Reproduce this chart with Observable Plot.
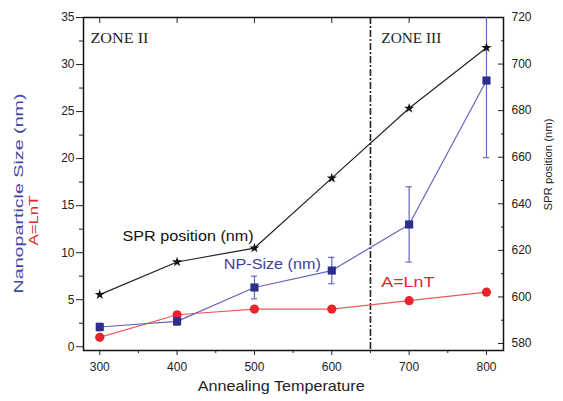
<!DOCTYPE html>
<html><head><meta charset="utf-8">
<script src="https://cdn.jsdelivr.net/npm/d3@7"></script>
<script src="https://cdn.jsdelivr.net/npm/@observablehq/plot@0.6"></script>
<style>body{margin:0;background:#fff}</style>
</head><body><div id="chart"></div>
<script>
const temperatures = [300, 400, 500, 600, 700, 800];
const sprPosition = [601, 615, 621, 651, 681, 707];
const npSize = [2.1, 2.7, 6.3, 8.1, 13.0, 28.3];
const npSizeError = [0.4, 0.4, 1.2, 1.4, 4.0, 8.2];
const lnT = [1.0, 3.4, 4.0, 4.0, 4.9, 5.8];
const xTicks = [300, 400, 500, 600, 700, 800];
const xMinorTicks = [350, 450, 550, 650, 750];
const leftTicks = [0, 5, 10, 15, 20, 25, 30, 35];
const leftMinorTicks = [2.5, 7.5, 12.5, 17.5, 22.5, 27.5, 32.5];
const rightTicks = [580, 600, 620, 640, 660, 680, 700, 720];
const rightMinorTicks = [590, 610, 630, 650, 670, 690, 710];
const zoneBoundary = [650];
const xLabel = "Annealing Temperature";
const leftLabel = "Nanoparticle Size (nm)";
const leftLabel2 = "A=LnT";
const rightLabel = "SPR position (nm)";

const sprToLeft = d3.scaleLinear().domain([577, 720]).range([-0.4, 35]);
const rows = temperatures.map((t, i) => ({
  t, spr: sprToLeft(sprPosition[i]), size: npSize[i],
  lo: npSize[i] - npSizeError[i], hi: npSize[i] + npSizeError[i], ln: lnT[i]
}));

const BLUE = "#2d2d8c", BLUE_L = "#6565c0", RED = "#e5252a", RED_L = "#ee5a5a";

const chart = Plot.plot({
  width: 563, height: 401,
  marginLeft: 83, marginRight: 60, marginTop: 17, marginBottom: 51,
  style: {fontFamily: "Liberation Sans, Arial, sans-serif", fontSize: "12px", color: "#222", background: "#fff"},
  x: {domain: [279, 822]},
  y: {domain: [-0.4, 35]},
  marks: [
    Plot.ruleX(zoneBoundary, {x: d => d, stroke: "#222", strokeWidth: 1.6, strokeDasharray: "7,2,2,2"}),
    // axes
    Plot.axisX(xTicks, {anchor: "bottom", tickSize: 5, tickPadding: 7, label: null, tickFormat: d => d}),
    Plot.axisX(xMinorTicks, {anchor: "bottom", tickSize: 3, label: null, tickFormat: () => ""}),
    Plot.axisX(xTicks, {anchor: "top", tickSize: -5, label: null, tickFormat: () => ""}),
    Plot.axisY(leftTicks, {anchor: "left", tickSize: 7, tickPadding: 2, label: null, tickFormat: d => d}),
    Plot.axisY(leftMinorTicks, {anchor: "left", tickSize: 4, label: null, tickFormat: () => ""}),
    Plot.axisY(rightTicks.map(v => sprToLeft(v)), {anchor: "right", tickSize: -6, tickPadding: 14, label: null, tickFormat: d => Math.round(sprToLeft.invert(d))}),
    Plot.axisY(rightMinorTicks.map(v => sprToLeft(v)), {anchor: "right", tickSize: -3, label: null, tickFormat: () => ""}),
    Plot.frame({stroke: "#111", strokeWidth: 1.5}),
    // A=LnT
    Plot.line(rows, {x: "t", y: "ln", stroke: RED_L, strokeWidth: 1.2}),
    Plot.dot(rows, {x: "t", y: "ln", r: 4.6, fill: RED, symbol: "circle"}),
    // NP size
    Plot.line(rows, {x: "t", y: "size", stroke: BLUE_L, strokeWidth: 1.2}),
    Plot.ruleX(rows, {x: "t", y1: "lo", y2: "hi", stroke: BLUE_L, strokeWidth: 1.2, clip: true}),
    Plot.ruleY(rows, {y: "lo", x1: d => d.t - 4, x2: d => d.t + 4, stroke: BLUE_L, strokeWidth: 1.2}),
    Plot.ruleY(rows.filter(d => d.hi <= 35), {y: "hi", x1: d => d.t - 4, x2: d => d.t + 4, stroke: BLUE_L, strokeWidth: 1.2}),
    Plot.dot(rows, {x: "t", y: "size", r: 4.6, fill: BLUE, symbol: "square"}),
    // SPR
    Plot.line(rows, {x: "t", y: "spr", stroke: "#222", strokeWidth: 1.2}),
    Plot.dot(rows, {x: "t", y: "spr", r: 3.2, fill: "#111", symbol: "star"}),
    // annotations
    Plot.text(["ZONE II"], {x: 288, y: 32.85, text: d => d, textAnchor: "start", fontFamily: "Liberation Serif, Times New Roman, serif", fontSize: 15, fill: "#222"}),
    Plot.text(["ZONE III"], {x: 664, y: 32.85, text: d => d, textAnchor: "start", fontFamily: "Liberation Serif, Times New Roman, serif", fontSize: 15, fill: "#222"}),
    Plot.text([rightLabel], {x: 329.5, y: 11.77, text: d => d, textAnchor: "start", fontSize: 14, fill: "#111"}),
    Plot.text(["NP-Size (nm)"], {x: 460.4, y: 8.69, text: d => d, textAnchor: "start", fontSize: 14, fill: "#4040a0"}),
    Plot.text([leftLabel2], {x: 664, y: 6.78, text: d => d, textAnchor: "start", fontSize: 14, fill: RED}),
    // axis titles
    Plot.text([xLabel], {x: 426.7, frameAnchor: "bottom", dy: 40, text: d => d, textAnchor: "start", fontSize: 15, fill: "#222"}),
    Plot.text([leftLabel], {y: 5.66, frameAnchor: "left", dx: -65, rotate: -90, text: d => d, textAnchor: "start", fontSize: 13, fill: "#4545a5"}),
    Plot.text([leftLabel2], {y: 10.76, frameAnchor: "left", dx: -49, rotate: -90, text: d => d, textAnchor: "start", fontSize: 12, fill: RED}),
    Plot.text([rightLabel], {y: 14.48, frameAnchor: "right", dx: 44.5, rotate: -90, text: d => d, textAnchor: "start", fontSize: 11.5, fill: "#222"})
  ]
});
document.getElementById("chart").appendChild(chart);

// stretch texts to the measured lengths of the reference
const lengths = [
  ["ZONE II", false, 58], ["ZONE III", false, 60], [rightLabel, false, 131],
  ["NP-Size (nm)", false, 97], [leftLabel2, false, 53], [xLabel, false, 167],
  [leftLabel, true, 200], [leftLabel2, true, 50], [rightLabel, true, 92]
];
d3.select(chart).selectAll("text").each(function () {
  const t = this.textContent;
  const rotated = (this.getAttribute("transform") || "").includes("rotate") ||
    (this.parentNode.getAttribute("transform") || "").includes("rotate");
  const m = lengths.find(([s, r]) => s === t && r === rotated);
  if (m) {
    this.setAttribute("textLength", m[2]);
    this.setAttribute("lengthAdjust", "spacingAndGlyphs");
  }
});
</script>
</body></html>
